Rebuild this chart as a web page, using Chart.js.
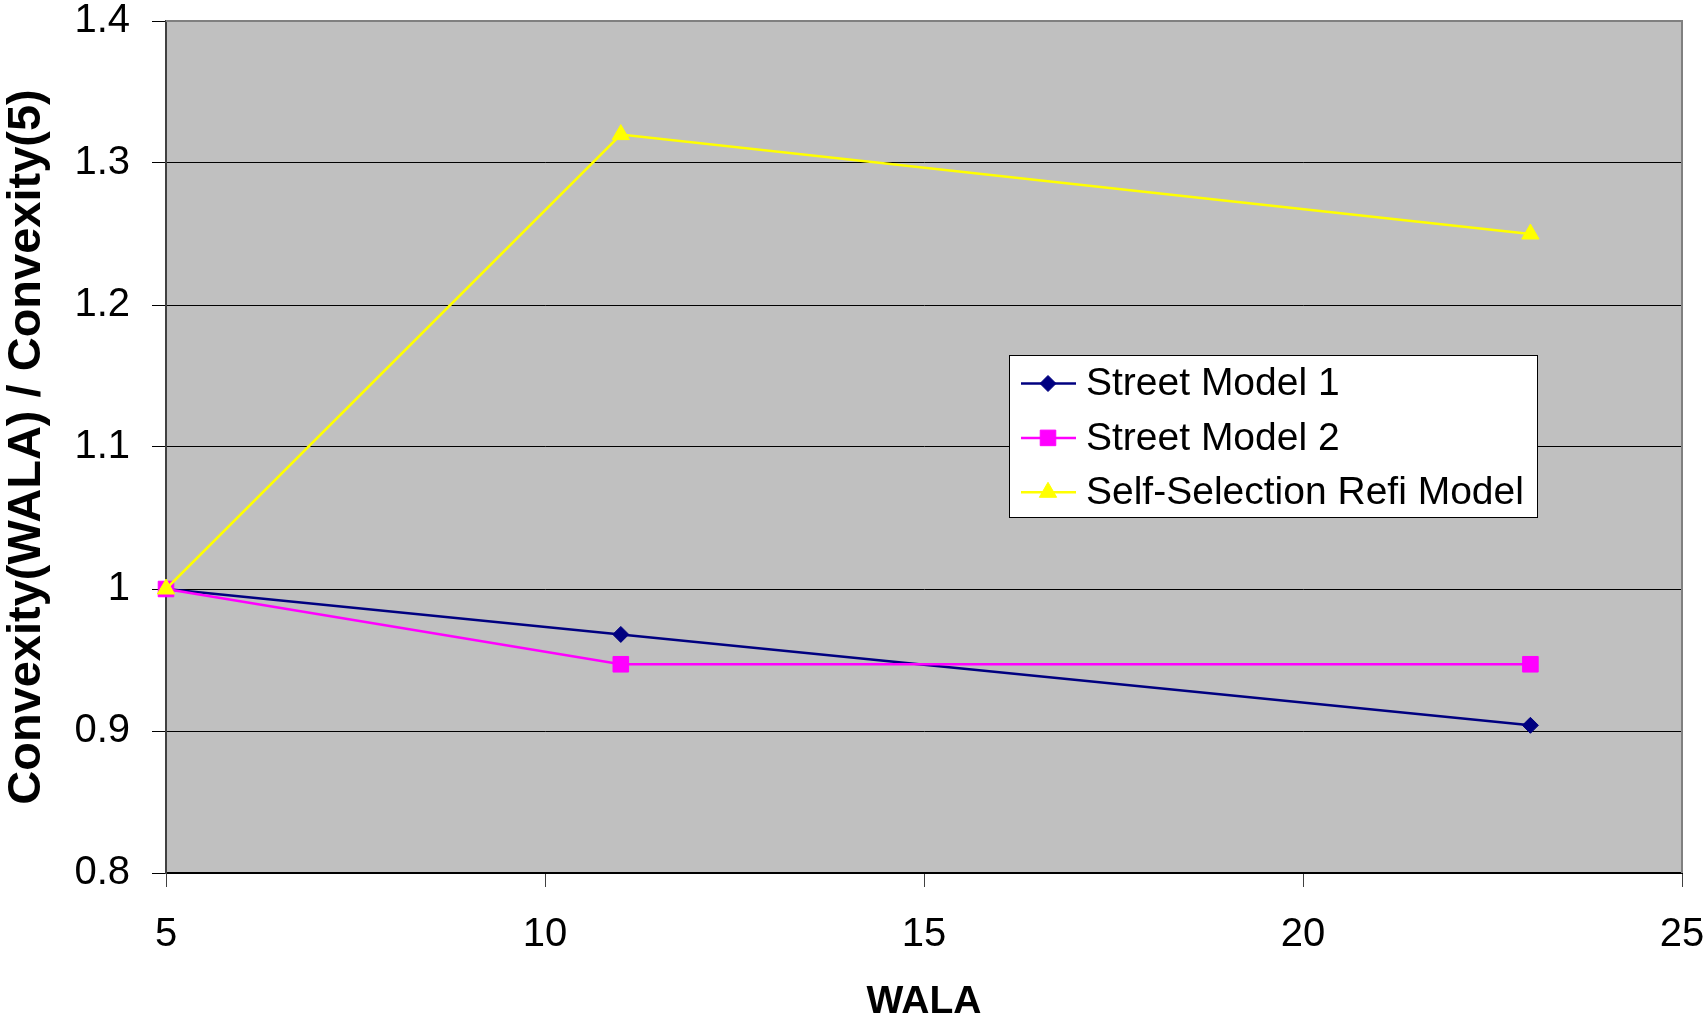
<!DOCTYPE html>
<html>
<head>
<meta charset="utf-8">
<script src="https://cdn.jsdelivr.net/npm/chart.js@4/dist/chart.umd.min.js"></script>
<style>
  html, body { margin: 0; padding: 0; background: #ffffff; overflow: hidden; }
  canvas { display: block; }
</style>
</head>
<body>
<canvas id="chart" width="1707" height="1023"></canvas>
<script>
// WALA values (x) and convexity ratios for each model
const wala = [5, 11, 23];
const streetModel1 = [1, 0.968, 0.904];
const streetModel2 = [1, 0.947, 0.947];
const selfSelectionRefi = [1, 1.32, 1.25];

const seriesNames = ['Street Model 1', 'Street Model 2', 'Self-Selection Refi Model'];
const seriesColors = ['#000080', '#FF00FF', '#FFFF00'];
const seriesMarkers = ['rectRot', 'rect', 'triangle'];
const markerRadius = [8, 11, 10];

const xTicks = [5, 10, 15, 20, 25];
const yTicks = [0.8, 0.9, 1, 1.1, 1.2, 1.3, 1.4];
const yTickLabels = ['0.8', '0.9', '1', '1.1', '1.2', '1.3', '1.4'];

const FONT = '"Liberation Sans", Arial, Helvetica, sans-serif';

function toPoints(ys) {
  return wala.map((x, i) => ({ x: x, y: ys[i] }));
}

const seriesValues = [streetModel1, streetModel2, selfSelectionRefi];

const datasets = seriesValues.map((vals, i) => ({
  label: seriesNames[i],
  data: toPoints(vals),
  borderColor: seriesColors[i],
  backgroundColor: seriesColors[i],
  borderWidth: 2.5,
  pointStyle: seriesMarkers[i],
  pointRadius: markerRadius[i],
  pointBorderWidth: 1,
  pointBorderColor: seriesColors[i],
  pointBackgroundColor: seriesColors[i],
  tension: 0,
  clip: false,
  order: seriesValues.length - 1 - i
}));

// Grey plot area fill plus the grey frame on the top and right edges
const plotFrame = {
  id: 'plotFrame',
  beforeDraw(chart) {
    const { ctx, chartArea: a } = chart;
    ctx.save();
    ctx.fillStyle = '#C0C0C0';
    ctx.fillRect(a.left, a.top, a.right - a.left, a.bottom - a.top);
    ctx.restore();
  },
  beforeDatasetsDraw(chart) {
    const { ctx, chartArea: a } = chart;
    ctx.save();
    ctx.strokeStyle = '#808080';
    ctx.lineWidth = 2;
    ctx.beginPath();
    ctx.moveTo(a.left, a.top);
    ctx.lineTo(a.right, a.top);
    ctx.lineTo(a.right, a.bottom);
    ctx.stroke();
    ctx.restore();
  }
};

function drawMarker(ctx, style, x, y, r, color) {
  ctx.save();
  ctx.fillStyle = color;
  ctx.strokeStyle = color;
  ctx.lineWidth = 1;
  ctx.beginPath();
  if (style === 'rectRot') {
    ctx.moveTo(x, y - r);
    ctx.lineTo(x + r, y);
    ctx.lineTo(x, y + r);
    ctx.lineTo(x - r, y);
  } else if (style === 'rect') {
    const s = r * Math.SQRT1_2;
    ctx.rect(x - s, y - s, 2 * s, 2 * s);
  } else {
    for (let k = 0; k < 3; k++) {
      const ang = k * 2 * Math.PI / 3;
      const px = x + Math.sin(ang) * r;
      const py = y - Math.cos(ang) * r;
      if (k === 0) ctx.moveTo(px, py); else ctx.lineTo(px, py);
    }
  }
  ctx.closePath();
  ctx.fill();
  ctx.stroke();
  ctx.restore();
}

// Boxed legend inside the plot area: line sample with marker, then label
const boxedLegend = {
  id: 'boxedLegend',
  afterDraw(chart) {
    const { ctx } = chart;
    const box = { left: 1009, top: 355, width: 528, height: 162 };
    ctx.save();
    ctx.fillStyle = '#ffffff';
    ctx.fillRect(box.left, box.top, box.width, box.height);
    ctx.strokeStyle = '#000000';
    ctx.lineWidth = 1;
    ctx.strokeRect(box.left + 0.5, box.top + 0.5, box.width, box.height);
    chart.data.datasets.forEach((ds, i) => {
      const y = box.top + 28.5 + i * 54.4;
      ctx.strokeStyle = ds.borderColor;
      ctx.lineWidth = 2.5;
      ctx.beginPath();
      ctx.moveTo(box.left + 12, y);
      ctx.lineTo(box.left + 67, y);
      ctx.stroke();
      drawMarker(ctx, ds.pointStyle, box.left + 39, y, ds.pointRadius, ds.borderColor);
      ctx.fillStyle = '#000000';
      ctx.font = '39px ' + FONT;
      ctx.textAlign = 'left';
      ctx.textBaseline = 'middle';
      ctx.fillText(ds.label, box.left + 77, y + 1);
    });
    ctx.restore();
  }
};

new Chart(document.getElementById('chart'), {
  type: 'line',
  data: { datasets: datasets },
  plugins: [plotFrame, boxedLegend],
  options: {
    responsive: false,
    animation: false,
    events: [],
    layout: { padding: { top: 21, right: 25, left: 0, bottom: 0 } },
    plugins: {
      legend: { display: false },
      tooltip: { enabled: false }
    },
    scales: {
      x: {
        type: 'linear',
        min: 5,
        max: 25,
        afterBuildTicks: s => { s.ticks = xTicks.map(v => ({ value: v })); },
        afterFit: s => { s.height = 150; s.paddingLeft = 0; s.paddingRight = 0; },
        grid: {
          display: true,
          drawOnChartArea: false,
          drawTicks: true,
          tickLength: 14,
          tickColor: '#404040',
          tickWidth: 1
        },
        border: { display: true, color: '#000000', width: 2 },
        ticks: {
          color: '#000000',
          padding: 24,
          maxRotation: 0,
          font: { family: FONT, size: 40, lineHeight: 1.2 }
        },
        title: {
          display: true,
          text: 'WALA',
          color: '#000000',
          padding: { top: 1.5, bottom: 1.5 },
          font: { family: FONT, size: 39, weight: 'bold', lineHeight: 1 }
        }
      },
      y: {
        type: 'linear',
        min: 0.8,
        max: 1.4,
        afterBuildTicks: s => { s.ticks = yTicks.map(v => ({ value: v })); },
        afterFit: s => { s.width = 166; s.paddingTop = 0; s.paddingBottom = 0; },
        grid: {
          display: true,
          drawOnChartArea: true,
          drawTicks: true,
          tickLength: 14,
          color: ctx => (ctx.tick && ctx.tick.value === 1.4 ? '#808080' : '#000000'),
          tickColor: '#000000',
          lineWidth: 1
        },
        border: { display: true, color: '#404040', width: 2 },
        ticks: {
          color: '#000000',
          padding: 22,
          font: { family: FONT, size: 40, lineHeight: 1.2 },
          callback: (value, index) => yTickLabels[index]
        },
        title: {
          display: true,
          text: 'Convexity(WALA) / Convexity(5)',
          color: '#000000',
          padding: { top: 4, bottom: 4 },
          font: { family: FONT, size: 47, weight: 'bold', lineHeight: 1 }
        }
      }
    }
  }
});
</script>
</body>
</html>
